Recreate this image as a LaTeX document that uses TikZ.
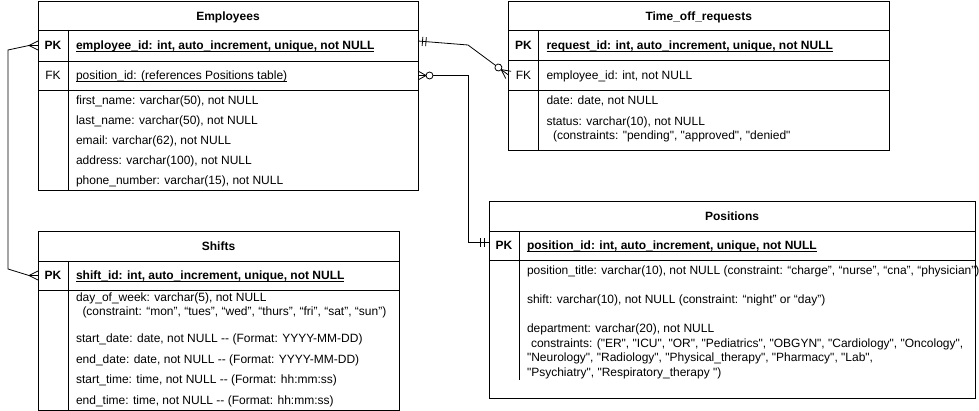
\documentclass[tikz,border=0pt]{standalone}
\usepackage{fontspec}
\setmainfont{Liberation Sans}[Ligatures=TeXOff]
\usetikzlibrary{decorations.markings}
\newsavebox\ulbox
\newcommand\ulx[1]{\sbox\ulbox{#1}\rlap{\vrule height -1.1pt depth 2.0pt width \wd\ulbox}\usebox\ulbox}
\tikzset{
  cell/.style n args={2}{draw, rectangle, anchor=north west, minimum width=#1, minimum height=#2, inner sep=0pt, outer sep=0pt},
  tx/.style={anchor=base west},
  hd/.style={anchor=base, font=\fontsize{12pt}{14pt}\selectfont\bfseries},
  crowS/.style={postaction={decorate,decoration={markings,mark=at position 0.01pt with {\draw (9pt,0pt) -- (0pt,4.5pt) (9pt,0pt) -- (0pt,-4.5pt);}}}},
  crowE/.style={postaction={decorate,decoration={markings,mark=at position -0.01pt with {\draw (-9pt,0pt) -- (0pt,4.5pt) (-9pt,0pt) -- (0pt,-4.5pt);}}}},
  zcrowS/.style={postaction={decorate,decoration={markings,mark=at position 0.01pt with {\draw (8pt,0pt) -- (0pt,4.5pt) (8pt,0pt) -- (0pt,-4.5pt); \draw[fill=white] (11.5pt,0pt) circle[radius=3.5pt];}}}},
  zcrowE/.style={postaction={decorate,decoration={markings,mark=at position -0.01pt with {\draw (-9pt,0pt) -- (0pt,4.5pt) (-9pt,0pt) -- (0pt,-4.5pt); \draw[fill=white] (-12.5pt,0pt) circle[radius=3.5pt];}}}},
  oneS/.style={postaction={decorate,decoration={markings,mark=at position 0.01pt with {\draw (4.5pt,-4.5pt) -- (4.5pt,4.5pt) (8pt,-4.5pt) -- (8pt,4.5pt);}}}},
  oneE/.style={postaction={decorate,decoration={markings,mark=at position -0.01pt with {\draw (-5pt,-4.5pt) -- (-5pt,4.5pt) (-8.5pt,-4.5pt) -- (-8.5pt,4.5pt);}}}},
}
\begin{document}
\begin{tikzpicture}[x=1pt,y=-1pt,line width=0.9pt,
  every node/.style={font=\fontsize{12pt}{14pt}\selectfont, inner sep=0pt, outer sep=0pt}]
\useasboundingbox (0,0) rectangle (979,411);

% ---------- Employees ----------
\node[cell={380pt}{29pt}] (empH) at (38,1) {};
\node[cell={380pt}{31pt}] (empPK) at (38,30) {};
\node[cell={380pt}{29pt}] (empFK) at (38,61) {};
\node[cell={380pt}{100pt}] (empB) at (38,90) {};
\draw ([xshift=30pt]empPK.north west) -- ([xshift=30pt]empB.south west);
\node[hd] (empT) at (228,20.5) {Employees};
\node[hd] (empPKl) at (53,50) {PK};
\node[tx] (empPKt) at (76,50) {\bfseries\ulx{employee\_id: int, auto\_increment, unique, not NULL}};
\node[anchor=base] (empFKl) at (53,80) {FK};
\node[tx] (empFKt) at (76,80) {\ulx{position\_id: (references Positions table)}};
\node[tx] (emp1) at (76,104.5) {first\_name: varchar(50), not NULL};
\node[tx] (emp2) at (76,124.5) {last\_name: varchar(50), not NULL};
\node[tx] (emp3) at (76,144.5) {email: varchar(62), not NULL};
\node[tx] (emp4) at (76,164.5) {address: varchar(100), not NULL};
\node[tx] (emp5) at (76,184.5) {phone\_number: varchar(15), not NULL};

% ---------- Time_off_requests ----------
\node[cell={380.5pt}{29pt}] (tofH) at (508.5,1) {};
\node[cell={380.5pt}{30pt}] (tofPK) at (508.5,30) {};
\node[cell={380.5pt}{30pt}] (tofFK) at (508.5,60) {};
\node[cell={380.5pt}{60pt}] (tofB) at (508.5,90) {};
\draw ([xshift=30pt]tofPK.north west) -- ([xshift=30pt]tofB.south west);
\node[hd] (tofT) at (698.75,20.5) {Time\_off\_requests};
\node[hd] (tofPKl) at (523.5,49.5) {PK};
\node[tx] (tofPKt) at (546.5,49.5) {\bfseries\ulx{request\_id: int, auto\_increment, unique, not NULL}};
\node[anchor=base] (tofFKl) at (523.5,79.5) {FK};
\node[tx] (tofFKt) at (546.5,79.5) {employee\_id: int, not NULL};
\node[tx] (tof1) at (546.5,104.5) {date: date, not NULL};
\node[tx] (tof2) at (546.5,126) {status: varchar(10), not NULL};
\node[tx] (tof3) at (553,140) {(constraints: "pending", "approved", "denied"};

% ---------- Shifts ----------
\node[cell={361pt}{30pt}] (shH) at (38,231) {};
\node[cell={361pt}{29pt}] (shPK) at (38,261) {};
\node[cell={361pt}{120pt}] (shB) at (38,290) {};
\draw ([xshift=30pt]shPK.north west) -- ([xshift=30pt]shB.south west);
\node[hd] (shT) at (218.5,250.5) {Shifts};
\node[hd] (shPKl) at (53,280) {PK};
\node[tx] (shPKt) at (76,280) {\bfseries\ulx{shift\_id: int, auto\_increment, unique, not NULL}};
\node[tx] (sh1) at (76,301.5) {day\_of\_week: varchar(5), not NULL};
\node[tx] (sh2) at (82.5,315.5) {(constraint: “mon”, “tues”, “wed”, “thurs”, “fri”, “sat”, “sun”)};
\node[tx] (sh3) at (76,342) {start\_date: date, not NULL -- (Format: YYYY-MM-DD)};
\node[tx] (sh4) at (76,363) {end\_date: date, not NULL -- (Format: YYYY-MM-DD)};
\node[tx] (sh5) at (76,383.5) {start\_time: time, not NULL -- (Format: hh:mm:ss)};
\node[tx] (sh6) at (76,404) {end\_time: time, not NULL -- (Format: hh:mm:ss)};

% ---------- Positions ----------
\node[cell={486pt}{30pt}] (posH) at (489,201) {};
\node[cell={486pt}{29pt}] (posPK) at (489,231) {};
\node[cell={486pt}{138pt}] (posB) at (489,260) {};
\draw ([xshift=30pt]posPK.north west) -- ([xshift=30pt,yshift=18pt]posB.south west);
\node[hd] (posT) at (732,220.5) {Positions};
\node[hd] (posPKl) at (504,250) {PK};
\node[tx] (posPKt) at (527,250) {\bfseries\ulx{position\_id: int, auto\_increment, unique, not NULL}};
\node[tx] (pos1) at (527,274.5) {position\_title: varchar(10), not NULL (constraint: “charge”, “nurse”, “cna”, “physician”)};
\node[tx] (pos2) at (527,303.5) {shift: varchar(10), not NULL (constraint: “night” or “day”)};
\node[tx] (pos3) at (527,332.5) {department: varchar(20), not NULL};
\node[tx] (pos4) at (531,347) {constraints: ("ER", "ICU", "OR", "Pediatrics", "OBGYN", "Cardiology", "Oncology",};
\node[tx] (pos5) at (527,361.5) {"Neurology", "Radiology", "Physical\_therapy", "Pharmacy", "Lab",};
\node[tx] (pos6) at (527,376) {"Psychiatry", "Respiratory\_therapy ")};

% ---------- Connectors ----------
\draw[line width=0.8pt, crowS, crowE] (empPK.west) -- ++(-9,0) -- (8,50) -- (8,269) -- ([xshift=-9pt]shPK.west) -- (shPK.west);
\draw[line width=0.8pt, oneS, zcrowE] ([yshift=4.5pt]empPK.east) -- ++(50,4) -- (tofFK.west);
\draw[line width=0.8pt, zcrowS, oneE] (empFK.east) -- ++(50,0) |- ([yshift=3pt]posPK.west);
\end{tikzpicture}
\end{document}
